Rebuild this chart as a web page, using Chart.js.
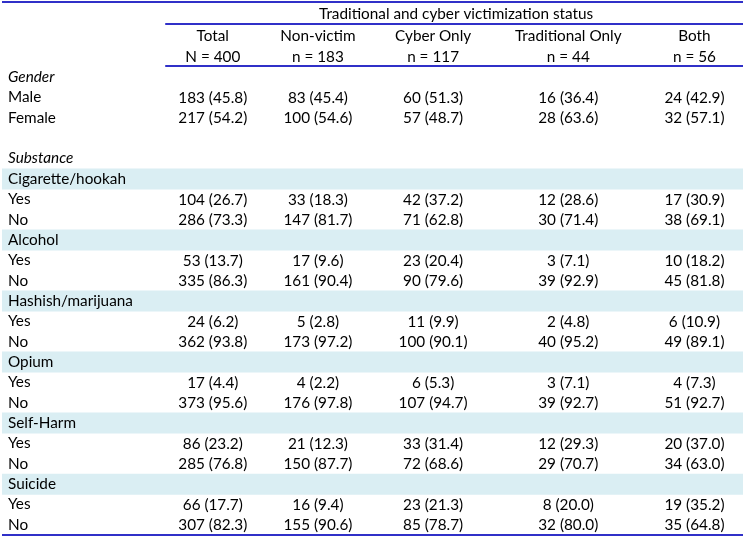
<!DOCTYPE html>
<html><head><meta charset="utf-8">
<script src="https://cdn.jsdelivr.net/npm/chart.js@4"></script>
<style>body{margin:0;background:#fff}#wrap{position:relative;width:745px;height:537px}</style>
</head><body><div id="wrap"><canvas id="c"></canvas></div>
<script>
// ---------- data ----------
const spannerTitle = 'Traditional and cyber victimization status';
const columns = ['Total', 'Non-victim', 'Cyber Only', 'Traditional Only', 'Both'];
const columnNs = ['N = 400', 'n = 183', 'n = 117', 'n = 44', 'n = 56'];
const rowLabels = ['Gender', 'Male', 'Female', '', 'Substance',
  'Cigarette/hookah', 'Yes', 'No',
  'Alcohol', 'Yes', 'No',
  'Hashish/marijuana', 'Yes', 'No',
  'Opium', 'Yes', 'No',
  'Self-Harm', 'Yes', 'No',
  'Suicide', 'Yes', 'No'];
const sectionLabels = ['Gender', 'Substance'];
const groupLabels = ['Cigarette/hookah', 'Alcohol', 'Hashish/marijuana', 'Opium', 'Self-Harm', 'Suicide'];
const _ = null;
const totalCounts     = [_,183,217,_,_,_,104,286,_,53,335,_,24,362,_,17,373,_,86,285,_,66,307];
const totalPct        = [_,45.8,54.2,_,_,_,26.7,73.3,_,13.7,86.3,_,6.2,93.8,_,4.4,95.6,_,23.2,76.8,_,17.7,82.3];
const nonVictimCounts = [_,83,100,_,_,_,33,147,_,17,161,_,5,173,_,4,176,_,21,150,_,16,155];
const nonVictimPct    = [_,45.4,54.6,_,_,_,18.3,81.7,_,9.6,90.4,_,2.8,97.2,_,2.2,97.8,_,12.3,87.7,_,9.4,90.6];
const cyberCounts     = [_,60,57,_,_,_,42,71,_,23,90,_,11,100,_,6,107,_,33,72,_,23,85];
const cyberPct        = [_,51.3,48.7,_,_,_,37.2,62.8,_,20.4,79.6,_,9.9,90.1,_,5.3,94.7,_,31.4,68.6,_,21.3,78.7];
const tradCounts      = [_,16,28,_,_,_,12,30,_,3,39,_,2,40,_,3,39,_,12,29,_,8,32];
const tradPct         = [_,36.4,63.6,_,_,_,28.6,71.4,_,7.1,92.9,_,4.8,95.2,_,7.1,92.7,_,29.3,70.7,_,20.0,80.0];
const bothCounts      = [_,24,32,_,_,_,17,38,_,10,45,_,6,49,_,4,51,_,20,34,_,19,35];
const bothPct         = [_,42.9,57.1,_,_,_,30.9,69.1,_,18.2,81.8,_,10.9,89.1,_,7.3,92.7,_,37.0,63.0,_,35.2,64.8];

// ---------- layout / style ----------
const colWidths = [163, 95, 115, 115, 155, 97]; // stub + 5 data columns (table units)
const FONT = 'Lato';
const FS = 15.3;
const ROW_H = 20.3;
const LINE = '#3030c8';
const SHADE = '#daeef3';
const TEXT = '#000000';

const countSeries = [totalCounts, nonVictimCounts, cyberCounts, tradCounts, bothCounts];
const pctSeries = [totalPct, nonVictimPct, cyberPct, tradPct, bothPct];
const edges = colWidths.reduce((a, w) => (a.push(a[a.length - 1] + w), a), [0]);
const tableW = edges[edges.length - 1];
const centers = columns.map((c, j) => (edges[j + 1] + edges[j + 2]) / 2);

const datasets = [{
  type: 'bar', indexAxis: 'y', xAxisID: 'x', yAxisID: 'y',
  data: rowLabels.map(l => groupLabels.includes(l) ? [0, tableW] : null),
  backgroundColor: SHADE, borderWidth: 0, barPercentage: 1, categoryPercentage: 1
}];
columns.forEach((c, j) => {
  datasets.push({
    type: 'scatter', label: c, xAxisID: 'x', yAxisID: 'y',
    data: rowLabels.map((l, i) => countSeries[j][i] == null ? null : { x: centers[j], y: i }),
    counts: countSeries[j], pcts: pctSeries[j],
    pointRadius: 0, pointHoverRadius: 0, showLine: false
  });
});

const tablePlugin = {
  id: 'tableText',
  afterDatasetsDraw(chart) {
    const ctx = chart.ctx;
    const xs = chart.scales.x, ys = chart.scales.y;
    ctx.save();
    ctx.fillStyle = TEXT;
    ctx.font = `${FS}px ${FONT}`;
    ctx.textAlign = 'center';
    ctx.textBaseline = 'middle';
    chart.data.datasets.forEach(ds => {
      if (ds.type !== 'scatter') return;
      ds.data.forEach((pt, i) => {
        if (pt == null || ds.counts[i] == null) return;
        const px = xs.getPixelForValue(pt.x);
        const py = ys.getPixelForValue(pt.y);
        ctx.fillText(`${ds.counts[i]} (${ds.pcts[i].toFixed(1)})`, px, py + 0.5);
      });
    });
    ctx.restore();
  },
  afterDraw(chart) {
    const ctx = chart.ctx;
    const xs = chart.scales.x;
    const L = xs.getPixelForValue(0), R = xs.getPixelForValue(tableW);
    const S = xs.getPixelForValue(edges[1]);
    const top = chart.chartArea.top, bottom = chart.chartArea.bottom;
    ctx.save();
    ctx.strokeStyle = LINE;
    ctx.lineWidth = 2;
    const hl = (x1, x2, y) => { ctx.beginPath(); ctx.moveTo(x1, y); ctx.lineTo(x2, y); ctx.stroke(); };
    hl(L, R, 2);
    hl(S, R, 24);
    hl(S, R, top - 1);
    hl(L, R, bottom);
    ctx.fillStyle = TEXT;
    ctx.font = `${FS}px ${FONT}`;
    ctx.textAlign = 'center';
    ctx.textBaseline = 'middle';
    ctx.fillText(spannerTitle, (S + R) / 2 + 2, 14);
    ctx.restore();
  }
};

Chart.defaults.font.family = FONT;
Chart.defaults.color = TEXT;

new Chart(document.getElementById('c'), {
  type: 'scatter',
  data: { labels: rowLabels, datasets },
  options: {
    responsive: true, maintainAspectRatio: false, animation: false,
    layout: { padding: { left: 2, right: 2, top: 0, bottom: 2 } },
    plugins: { legend: { display: false }, tooltip: { enabled: false } },
    events: [],
    scales: {
      x: {
        type: 'linear', position: 'top', min: 0, max: tableW, offset: false,
        grid: { display: false, drawTicks: false }, border: { display: false },
        afterBuildTicks: s => { s.ticks = centers.map(v => ({ value: v })); },
        afterFit: s => { s.height = 67; s.paddingLeft = 0; s.paddingRight = 0; },
        ticks: {
          autoSkip: false, maxRotation: 0, minRotation: 0, padding: 0,
          font: { size: FS, lineHeight: ROW_H / FS },
          callback: (v, i) => [columns[i], columnNs[i]]
        }
      },
      y: {
        type: 'category', position: 'left', offset: true,
        grid: { display: false, drawTicks: false }, border: { display: false },
        afterFit: s => { s.width = 0; s.paddingTop = 0; s.paddingBottom = 0; },
        ticks: {
          mirror: true, padding: 6, autoSkip: false, z: 1,
          font: ctx => ({ size: FS, style: sectionLabels.includes(rowLabels[ctx.index]) ? 'italic' : 'normal' })
        }
      }
    }
  },
  plugins: [tablePlugin]
});
</script>
</body></html>
